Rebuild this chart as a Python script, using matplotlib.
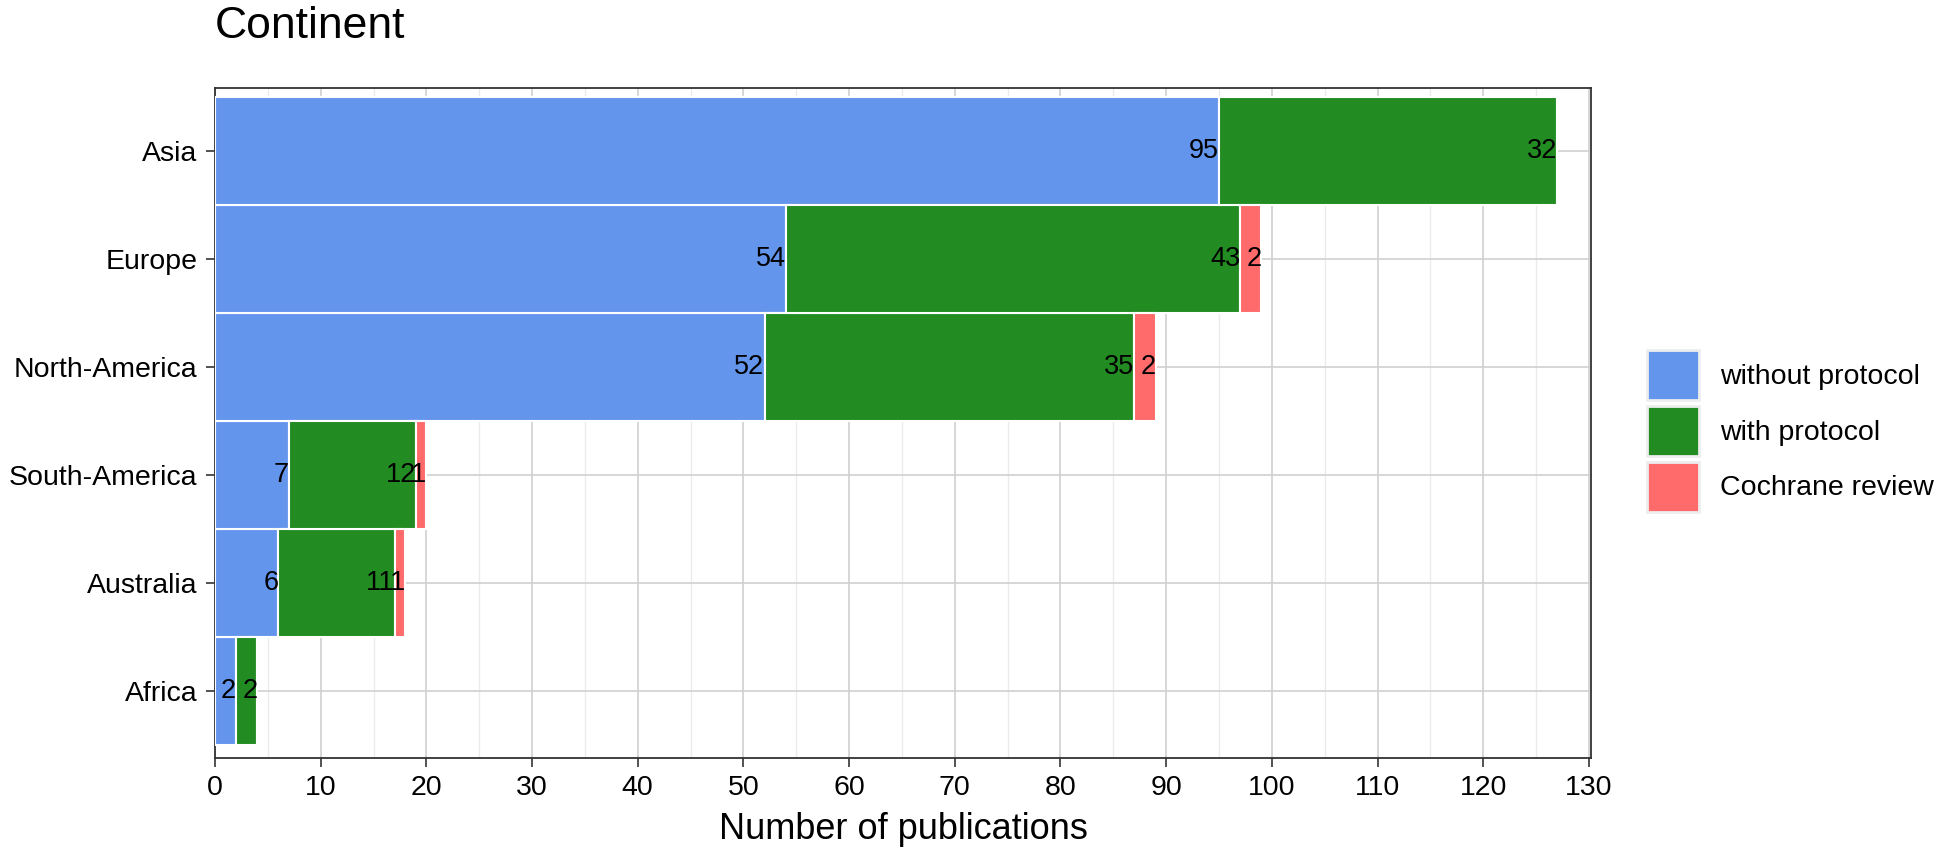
import matplotlib.pyplot as plt
import numpy as np
from matplotlib.patches import Patch

plt.rcParams['font.family'] = ['Liberation Sans', 'DejaVu Sans']

# data (bottom to top)
continents = ["Africa", "Australia", "South-America", "North-America", "Europe", "Asia"]
without_protocol = [2, 6, 7, 52, 54, 95]
with_protocol = [2, 11, 12, 35, 43, 32]
cochrane = [0, 1, 1, 2, 2, 0]

series_names = ["without protocol", "with protocol", "Cochrane review"]
colors = ["#6495ED", "#228B22", "#FF6A6A"]

fig = plt.figure(figsize=(19.44, 8.5), dpi=100)
ax = fig.add_axes([215/1944, 1 - 758/850, (1591-215)/1944, (758-88)/850])

y = np.arange(len(continents))
left = np.zeros(len(continents))
for vals, col in zip([without_protocol, with_protocol, cochrane], colors):
    vals = np.array(vals)
    ax.barh(y, vals, left=left, height=1.0, color=col, edgecolor="white",
            linewidth=1.5, zorder=3)
    # label at the right end of each segment
    for yi, (l, v) in enumerate(zip(left, vals)):
        if v > 0:
            ax.text(l + v, yi, str(v), ha="right", va="center",
                    fontsize=19.5, color="black", zorder=4)
    left = left + vals

ax.set_xlim(0, 130.2)
ax.set_ylim(-0.62, 5.58)
ax.set_xticks(np.arange(0, 131, 10))
ax.set_xticks(np.arange(5, 131, 10), minor=True)
ax.set_yticks(y)
ax.set_yticklabels(continents)

ax.grid(which="major", color="#d0d0d0", linewidth=1.2, zorder=0)
ax.grid(which="minor", axis="x", color="#ebebeb", linewidth=1.0, zorder=0)
ax.tick_params(axis="both", which="major", labelsize=20.5, length=6.5,
               color="#333333", width=1.2, pad=6)
ax.tick_params(axis="x", which="minor", length=0)
for s in ax.spines.values():
    s.set_color("#333333")
    s.set_linewidth(1.3)

ax.set_xlabel("Number of publications", fontsize=26, labelpad=8)
ax.set_title("Continent", fontsize=32, loc="left", x=0, pad=36)

handles = [Patch(facecolor=c, edgecolor="#eeeeee", linewidth=2) for c in colors]
fig.legend(handles, series_names, loc="center left",
           bbox_to_anchor=(1636/1944, 1 - 431/850), frameon=False,
           fontsize=20.5, handlelength=1.8, handleheight=2.32,
           labelspacing=0.2, handletextpad=0.75, borderaxespad=0)

fig.savefig("out.png", dpi=100)
